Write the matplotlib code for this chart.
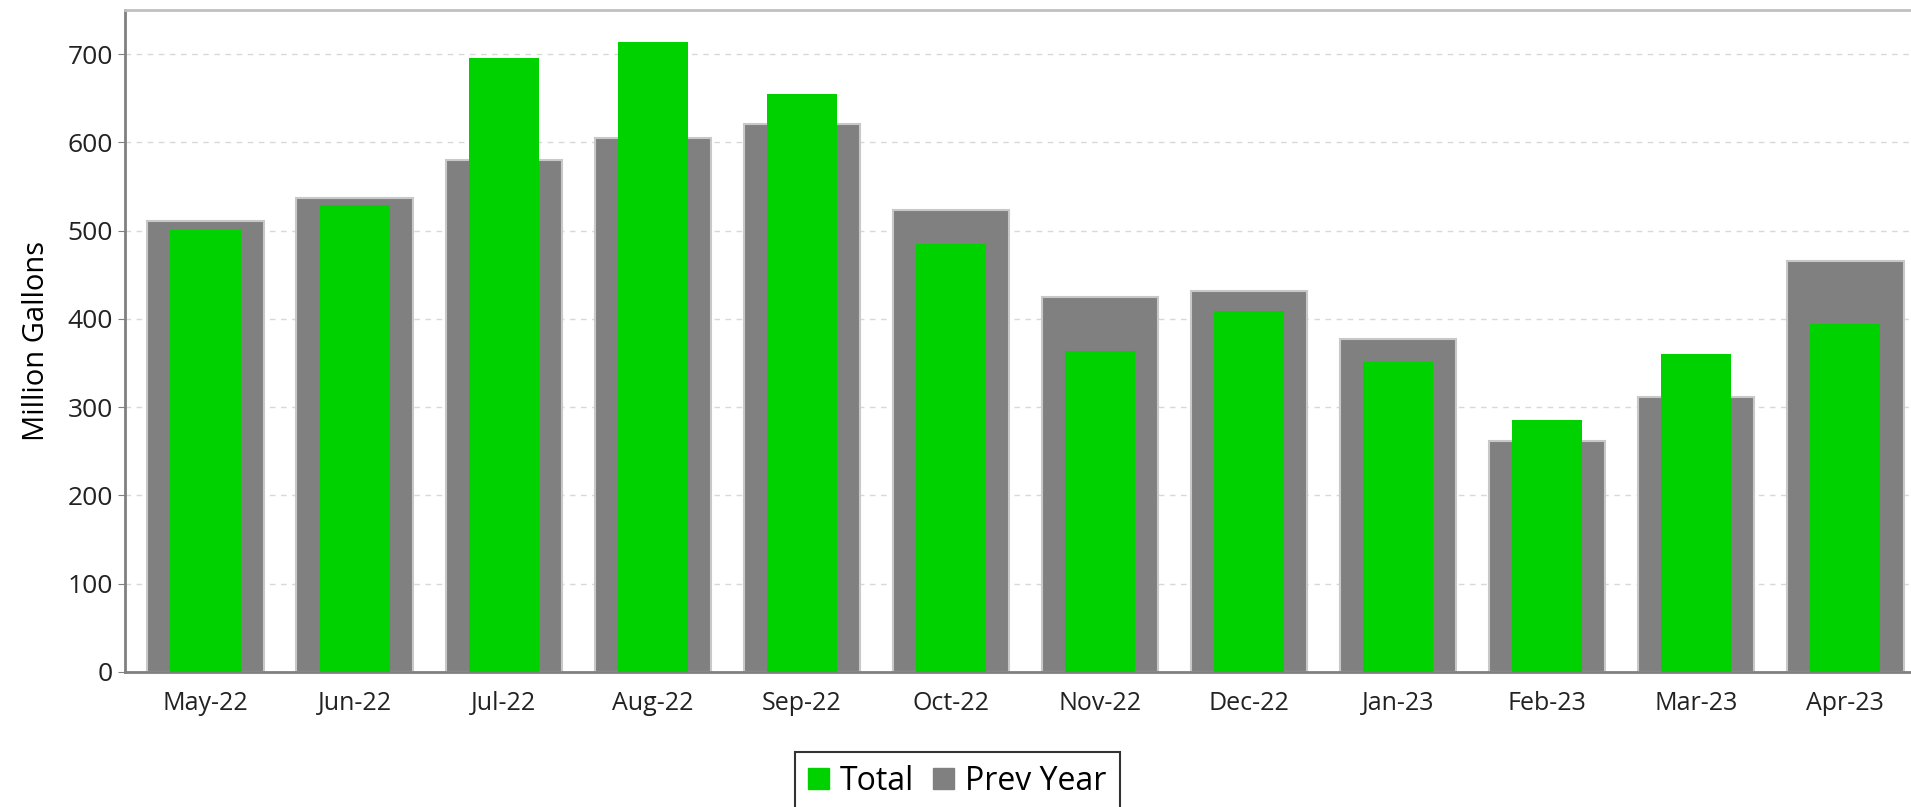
import numpy as np
import matplotlib.pyplot as plt
from matplotlib.patches import Patch

plt.rcParams['font.family'] = ['Open Sans', 'DejaVu Sans']

months = ['May-22', 'Jun-22', 'Jul-22', 'Aug-22', 'Sep-22', 'Oct-22',
          'Nov-22', 'Dec-22', 'Jan-23', 'Feb-23', 'Mar-23', 'Apr-23']
total = [501, 529, 696, 714, 655, 485, 364, 409, 351, 285, 360, 394]
prev_year = [511, 537, 580, 605, 621, 523, 425, 432, 377, 262, 312, 466]

x = np.arange(len(months))

fig = plt.figure(figsize=(19.11, 8.07), dpi=100)
ax = fig.add_axes([0.0654, 0.1673, 0.9346, 0.8203])

ax.bar(x, prev_year, width=0.78, color='#808080', edgecolor='#c8c8c8', lw=1.5, zorder=2)
ax.bar(x, total, width=0.47, color='#00d200', zorder=3)

ax.set_xlim(-0.54, 11.44)
ax.set_ylim(0, 750)
ax.set_yticks(np.arange(0, 701, 100))
ax.set_xticks(x)
ax.set_xticklabels(months)
ax.tick_params(axis='x', length=0, labelsize=18, pad=14, colors='#222222')
ax.tick_params(axis='y', length=5, labelsize=19, colors='#222222', color='#808080')
ax.set_ylabel('Million Gallons', fontsize=21, labelpad=12)
ax.yaxis.grid(True, ls=(0, (4, 4)), color='#d8d8d8', lw=1, zorder=0)

for side in ['left', 'bottom']:
    ax.spines[side].set_color('#808080')
    ax.spines[side].set_linewidth(2)
ax.spines['top'].set_color('#c0c0c0')
ax.spines['top'].set_linewidth(2)
ax.spines['right'].set_visible(False)

handles = [Patch(color='#00d200'), Patch(color='#808080')]
leg = fig.legend(handles, ['Total', 'Prev Year'], loc='upper center', bbox_to_anchor=(0.501, 0.068),
                 ncol=2, fontsize=23, frameon=True, fancybox=False,
                 handlelength=0.65, handleheight=0.65, handletextpad=0.35,
                 columnspacing=0.6, borderpad=0.4, borderaxespad=0)
leg.get_frame().set_edgecolor('black')
leg.get_frame().set_linewidth(1.5)

plt.savefig('out.png', dpi=100)
